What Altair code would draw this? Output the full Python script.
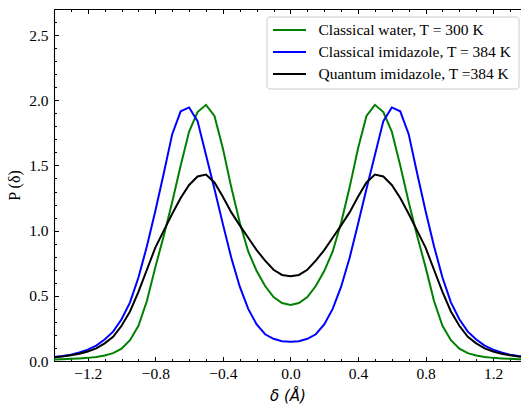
import altair as alt
import pandas as pd

# ---------------- data ----------------
delta = [-1.40, -1.35, -1.30, -1.25, -1.20, -1.15, -1.10, -1.05, -1.00, -0.95,
         -0.90, -0.85, -0.80, -0.75, -0.70, -0.65, -0.60, -0.55, -0.50, -0.45,
         -0.40, -0.35, -0.30, -0.25, -0.20, -0.15, -0.10, -0.05, 0.00,
         0.05, 0.10, 0.15, 0.20, 0.25, 0.30, 0.35, 0.40, 0.45, 0.50,
         0.55, 0.60, 0.65, 0.70, 0.75, 0.80, 0.85, 0.90, 0.95, 1.00,
         1.05, 1.10, 1.15, 1.20, 1.25, 1.30, 1.35, 1.40]

classical_water = [0.012, 0.014, 0.017, 0.020, 0.024, 0.031, 0.042, 0.060, 0.095, 0.16,
                   0.27, 0.46, 0.72, 0.96, 1.22, 1.50, 1.76, 1.91, 1.965, 1.88,
                   1.63, 1.33, 1.06, 0.84, 0.69, 0.575, 0.49, 0.445, 0.43,
                   0.445, 0.49, 0.575, 0.69, 0.84, 1.06, 1.33, 1.63, 1.88, 1.965,
                   1.91, 1.76, 1.50, 1.22, 0.96, 0.72, 0.46, 0.27, 0.16, 0.095,
                   0.060, 0.042, 0.031, 0.024, 0.020, 0.017, 0.014, 0.012]

classical_imidazole = [0.030, 0.038, 0.048, 0.065, 0.087, 0.118, 0.165, 0.225, 0.32, 0.45,
                       0.64, 0.88, 1.15, 1.44, 1.74, 1.915, 1.945, 1.84, 1.58, 1.32,
                       1.05, 0.79, 0.57, 0.40, 0.28, 0.205, 0.17, 0.152, 0.147,
                       0.152, 0.17, 0.205, 0.28, 0.40, 0.57, 0.79, 1.05, 1.32, 1.58,
                       1.84, 1.945, 1.915, 1.74, 1.44, 1.15, 0.88, 0.64, 0.45, 0.32,
                       0.225, 0.165, 0.118, 0.087, 0.065, 0.048, 0.038, 0.030]

quantum_imidazole = [0.028, 0.035, 0.044, 0.056, 0.073, 0.097, 0.135, 0.185, 0.27, 0.38,
                     0.53, 0.70, 0.87, 1.00, 1.13, 1.25, 1.35, 1.415, 1.43, 1.37,
                     1.26, 1.14, 1.04, 0.945, 0.85, 0.77, 0.70, 0.66, 0.65,
                     0.66, 0.70, 0.77, 0.85, 0.945, 1.04, 1.14, 1.26, 1.37, 1.43,
                     1.415, 1.35, 1.25, 1.13, 1.00, 0.87, 0.70, 0.53, 0.38, 0.27,
                     0.185, 0.135, 0.097, 0.073, 0.056, 0.044, 0.035, 0.028]

series_names = ["Classical water, T = 300 K",
                "Classical imidazole, T = 384 K",
                "Quantum imidazole, T =384 K"]
series_colors = ["#008000", "#0000ff", "#000000"]

x_major = [-1.2, -0.8, -0.4, 0.0, 0.4, 0.8, 1.2]
x_minor = [-1.4, -1.3, -1.1, -1.0, -0.9, -0.7, -0.6, -0.5, -0.3, -0.2, -0.1,
           0.1, 0.2, 0.3, 0.5, 0.6, 0.7, 0.9, 1.0, 1.1, 1.3]
y_major = [0.0, 0.5, 1.0, 1.5, 2.0, 2.5]
y_minor = [0.1, 0.2, 0.3, 0.4, 0.6, 0.7, 0.8, 0.9, 1.1, 1.2, 1.3, 1.4,
           1.6, 1.7, 1.8, 1.9, 2.1, 2.2, 2.3, 2.4, 2.6]

# ---------------- table ----------------
rows = []
for name, vals in zip(series_names, [classical_water, classical_imidazole, quantum_imidazole]):
    for xv, yv in zip(delta, vals):
        rows.append({"delta": xv, "P": yv, "series": name})
df = pd.DataFrame(rows)

W, H = 467, 352
FONT = "Liberation Serif"
FS = 15.5
MAJ, MIN = 4.5, 2.5

xscale = alt.Scale(domain=[-1.4, 1.365], nice=False, zero=False)
yscale = alt.Scale(domain=[0, 2.7], nice=False, zero=False)

lines = alt.Chart(df).mark_line(clip=True, strokeWidth=2).encode(
    x=alt.X("delta:Q", scale=xscale,
            axis=alt.Axis(values=x_major, orient="bottom", ticks=False, grid=False,
                          domain=True, domainColor="black", domainWidth=1.1,
                          labelExpr="replace(format(datum.value, '.1f'), '-', '\u2212')",
                          labelFont=FONT, labelFontSize=FS, labelColor="black",
                          labelPadding=5, labelFlush=False,
                          title="\u03b4 (\u00c5)", titleFont="DejaVu Sans",
                          titleFontStyle="italic", titleFontWeight="normal",
                          titleFontSize=15, titleColor="black", titlePadding=7)),
    y=alt.Y("P:Q", scale=yscale,
            axis=alt.Axis(values=y_major, orient="left", ticks=False, grid=False,
                          domain=True, domainColor="black", domainWidth=1.1,
                          format=".1f", labelFont=FONT, labelFontSize=FS,
                          labelColor="black", labelPadding=6, labelFlush=False,
                          title="P (\u03b4)", titleFont=FONT, titleFontWeight="normal",
                          titleFontSize=16, titleColor="black", titlePadding=6)),
    color=alt.Color("series:N", scale=alt.Scale(domain=series_names, range=series_colors),
                    legend=None),
)


def tick_axis(values, size, orient):
    return alt.Axis(values=values, orient=orient, offset=-size, tickSize=size,
                    ticks=True, labels=False, domain=False, grid=False, title=None,
                    tickColor="black", tickWidth=1)


def tick_layer(xvals, yvals, size, xorient, yorient):
    enc = {"x": alt.X("delta:Q", scale=xscale, axis=tick_axis(xvals, size, xorient))}
    if yvals is not None:
        enc["y"] = alt.Y("P:Q", scale=yscale, axis=tick_axis(yvals, size, yorient))
    else:
        enc["y"] = alt.Y("P:Q", scale=yscale, axis=None)
    return alt.Chart(df).mark_point(opacity=0, size=0).encode(**enc)


t1 = tick_layer(x_major, y_major, MAJ, "bottom", "left")
t2 = tick_layer(x_minor, y_minor, MIN, "bottom", "left")
t3 = tick_layer(x_major, None, MAJ, "top", "left")
t4 = tick_layer(x_minor, None, MIN, "top", "left")
top_domain = alt.Chart(df).mark_point(opacity=0, size=0).encode(
    x=alt.X("delta:Q", scale=xscale,
            axis=alt.Axis(orient="top", ticks=False, labels=False, grid=False,
                          domain=True, domainColor="black", domainWidth=1.1, title=None)),
    y=alt.Y("P:Q", scale=yscale, axis=None),
)

# ---------------- legend ----------------
leg_box = alt.Chart(pd.DataFrame({"k": [0]})).mark_rect(
    fill="white", fillOpacity=0.8, stroke="#cccccc", strokeWidth=1, cornerRadius=3
).encode(x=alt.value(213), x2=alt.value(465), y=alt.value(8), y2=alt.value(80))

leg_layers = [leg_box]
for i, (name, col) in enumerate(zip(series_names, series_colors)):
    yy = 21 + 22 * i
    ldf = pd.DataFrame({"label": [name]})
    leg_layers.append(
        alt.Chart(ldf).mark_rule(color=col, strokeWidth=2).encode(
            x=alt.value(219), x2=alt.value(252), y=alt.value(yy))
    )
    leg_layers.append(
        alt.Chart(ldf).mark_text(font=FONT, fontSize=FS, color="black",
                                 align="left", baseline="middle").encode(
            text="label:N", x=alt.value(264.5), y=alt.value(yy))
    )

chart = alt.layer(lines, t1, t2, t3, t4, top_domain, *leg_layers).resolve_axis(
    x="independent", y="independent"
).properties(
    width=W, height=H, autosize="none",
    padding={"left": 54, "top": 9, "right": 0, "bottom": 44},
).configure_view(stroke=None)

chart.save("out.html", embed_options={"renderer": "svg", "actions": False})
